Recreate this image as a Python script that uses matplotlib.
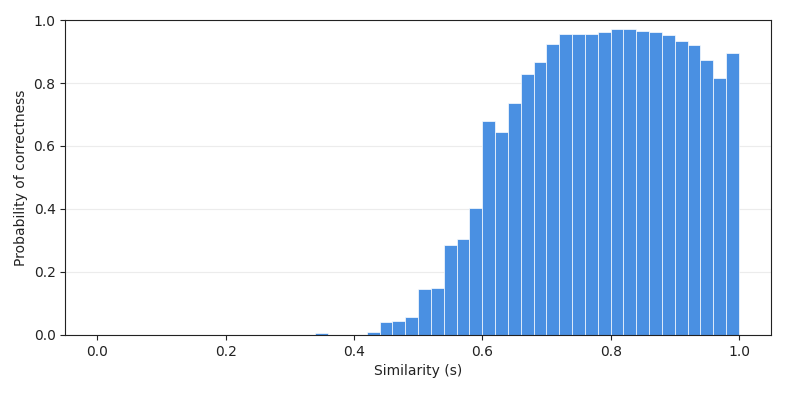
import matplotlib
matplotlib.use("Agg")
import matplotlib.pyplot as plt

bin_edges_left = [round(i * 0.02, 2) for i in range(50)]
probabilities = [
    0, 0, 0, 0, 0, 0, 0, 0, 0, 0,
    0, 0, 0, 0, 0, 0, 0, 0.005, 0, 0,
    0, 0.009, 0.040, 0.043, 0.057, 0.145, 0.148, 0.284, 0.303, 0.402,
    0.678, 0.643, 0.735, 0.829, 0.868, 0.925, 0.955, 0.957, 0.955, 0.961,
    0.970, 0.970, 0.965, 0.961, 0.951, 0.935, 0.920, 0.873, 0.815, 0.896,
]
bin_width = 0.02

fig = plt.figure(figsize=(7.86, 3.93), dpi=100)
ax = fig.add_axes([0.083, 0.148, 0.898, 0.801])
ax.bar(bin_edges_left, probabilities, width=bin_width, align="edge",
       color="#4a90e2", edgecolor=(1, 1, 1, 0.8), linewidth=0.6, zorder=2)
ax.set_xlim(-0.05, 1.05)
ax.set_ylim(0, 1.0)
ax.yaxis.grid(True, color="#ececec", linewidth=0.8, zorder=0)
ax.set_axisbelow(True)
ax.set_xlabel("Similarity (s)", fontsize=10, color="#222222")
ax.set_ylabel("Probability of correctness", fontsize=10, color="#222222")
ax.tick_params(labelsize=10, colors="#222222")
for s in ax.spines.values():
    s.set_color("#222222")
fig.savefig("out.png", dpi=100)
